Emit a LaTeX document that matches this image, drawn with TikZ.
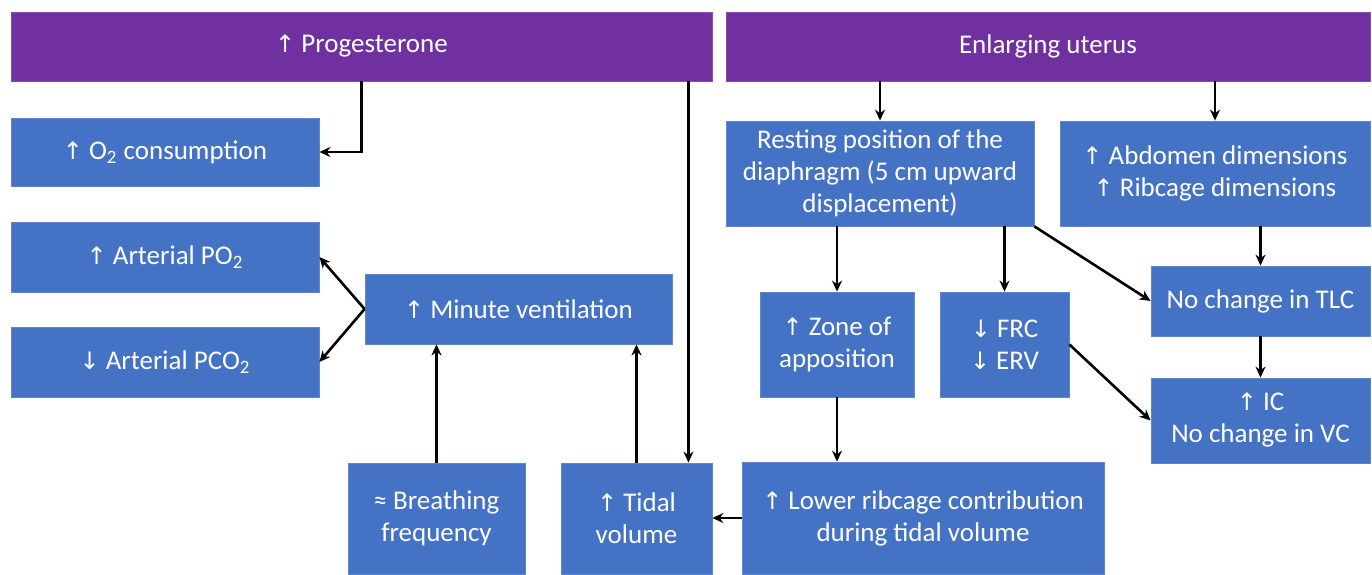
\documentclass[tikz,border=0pt]{standalone}
\usepackage{fontspec}
\setmainfont{Carlito}
\newfontfamily\symfont{DejaVu Sans}
\usetikzlibrary{arrows.meta,calc}
\definecolor{boxblue}{HTML}{4472C4}
\definecolor{boxpurple}{HTML}{7030A0}
\newcommand{\upar}{{\symfont\fontsize{12}{12}\selectfont ↑}}
\newcommand{\dnar}{{\symfont\fontsize{12}{12}\selectfont ↓}}
\tikzset{
  box/.style={fill=boxblue, draw=boxblue!85!white, line width=0.4pt, text=white,
    align=center, inner sep=0pt, font=\fontsize{13.5}{16}\selectfont},
  hdr/.style={box, fill=boxpurple, draw=boxpurple!85!white},
  arr/.style={-{Stealth[length=5.5pt,width=5pt]}, line width=1.3pt, black},
}
\begin{document}
\begin{tikzpicture}[x=0.5pt,y=-0.5pt]
\useasboundingbox (0,0) rectangle (1372,574);
% headers
\node[hdr, minimum width=350.5pt, minimum height=34.5pt] (prog) at (361.5,46.5) {\upar\ Progesterone};
\node[hdr, minimum width=322pt, minimum height=34.5pt] (uter) at (1048,46.5) {Enlarging uterus};
% left column
\node[box, minimum width=154pt, minimum height=34pt] (o2) at (165,152) {\upar\ O\textsubscript{2} consumption};
\node[box, minimum width=154pt, minimum height=35pt] (po2) at (165,257) {\upar\ Arterial PO\textsubscript{2}};
\node[box, minimum width=154pt, minimum height=35pt] (pco2) at (165,362) {\dnar\ Arterial PCO\textsubscript{2}};
\node[box, minimum width=153.5pt, minimum height=35pt] (mv) at (518.5,309) {\upar\ Minute ventilation};
\node[box, minimum width=88.5pt, minimum height=55.5pt] (bf) at (436.5,518.5) {≈ Breathing\\frequency};
\node[box, minimum width=75.5pt, minimum height=55.5pt] (tv) at (636.5,518.5) {\upar\ Tidal\\volume};
\node[box, minimum width=181pt, minimum height=56pt] (lr) at (923,518) {\upar\ Lower ribcage contribution\\during tidal volume};
% right part
\node[box, minimum width=154pt, minimum height=52.5pt] (rest) at (880,173.5) {Resting position of the\\diaphragm (5 cm upward\\displacement)};
\node[box, minimum width=155pt, minimum height=52.5pt] (abd) at (1215,173.5) {\upar\ Abdomen dimensions\\\upar\ Ribcage dimensions};
\node[box, minimum width=77pt, minimum height=52.5pt] (zone) at (837,344.5) {\upar\ Zone of\\apposition};
\node[box, minimum width=64.5pt, minimum height=52.5pt] (frc) at (1004.5,344.5) {\dnar\ FRC\\\dnar\ ERV};
\node[box, minimum width=109.5pt, minimum height=35pt] (tlc) at (1260.5,301) {No change in TLC};
\node[box, minimum width=109.5pt, minimum height=42.5pt] (ic) at (1260.5,420.5) {\upar\ IC\\No change in VC};
% connectors
\coordinate (tvin) at ([xshift=-12pt]tv.north east);
\draw[arr] (prog.south) |- (o2.east);
\draw[arr] (prog.south -| tvin) -- (tvin);
\draw[arr] (mv.west) -- (po2.east);
\draw[arr] (mv.west) -- (pco2.east);
\draw[arr] (bf.north) -- (bf.north |- mv.south);
\draw[arr] (tv.north) -- (tv.north |- mv.south);
\draw[arr] (lr.west) -- (lr.west -| tv.east);
\draw[arr] (rest.north |- uter.south) -- (rest.north);
\draw[arr] (abd.north |- uter.south) -- (abd.north);
\draw[arr] (zone.north |- rest.south) -- (zone.north);
\draw[arr] (frc.north |- rest.south) -- (frc.north);
\draw[arr] (rest.south east) -- (tlc.west);
\draw[arr] (frc.east) -- (ic.west);
\draw[arr] (zone.south) -- (zone.south |- lr.north);
\draw[arr] (tlc.north |- abd.south) -- (tlc.north);
\draw[arr] (tlc.south) -- (ic.north);
\end{tikzpicture}
\end{document}
